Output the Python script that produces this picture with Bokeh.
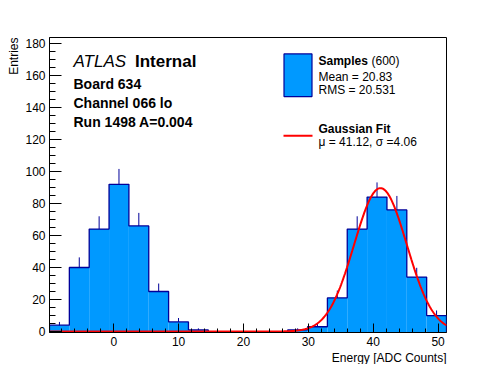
import numpy as np
from bokeh.plotting import figure
from bokeh.models import Range1d, FixedTicker, Label, Title
from bokeh.embed import file_html
from bokeh.resources import INLINE

# ---- data ----
BIN_LO, BIN_HI, N_BINS = -9.9, 51.3, 20
counts = [4, 40, 64, 92, 66, 25, 6, 1, 0, 0, 0, 0, 1, 3, 21, 64, 84, 76, 34, 10]
fit_const = 89.6
fit_mu = 41.12
fit_sigma = 4.06
x_ticks = [0, 10, 20, 30, 40, 50]
y_ticks = [0, 20, 40, 60, 80, 100, 120, 140, 160, 180]
Y_LO, Y_HI = -0.6, 183.7

FONT = "Liberation Sans"
FILL = "#0099ff"
EDGE = "#000099"

# frame position in picture pixels
FL, FR, FT, FB = 49, 446, 37, 334
W, H = 480, 364

edges = np.linspace(BIN_LO, BIN_HI, N_BINS + 1)
cnt = np.array(counts, dtype=float)
centers = 0.5 * (edges[:-1] + edges[1:])

p = figure(width=W, height=H, output_backend="svg", toolbar_location=None,
           x_range=Range1d(BIN_LO, BIN_HI), y_range=Range1d(Y_LO, Y_HI),
           min_border_left=FL, min_border_right=W - FR, min_border_top=FT, min_border_bottom=H - FB)
p.background_fill_color = "white"
p.border_fill_color = "white"
p.outline_line_color = "black"
p.outline_line_width = 1
p.xgrid.grid_line_color = None
p.ygrid.grid_line_color = None

# error bars (upper part visible above fill)
nz = cnt > 0
p.segment(x0=centers[nz], y0=(cnt - np.sqrt(cnt))[nz], x1=centers[nz], y1=(cnt + np.sqrt(cnt))[nz],
          line_color=EDGE, line_width=1)
# filled bars
p.quad(left=edges[:-1], right=edges[1:], bottom=Y_LO, top=cnt, fill_color=FILL, line_color=None)
# step outline
sx = np.repeat(edges, 2)
sy = np.concatenate([[0], np.repeat(cnt, 2), [0]])
p.line(sx, sy, line_color=EDGE, line_width=1.3)

# Gaussian fit
gx = np.linspace(BIN_LO, BIN_HI, 600)
gy = fit_const * np.exp(-0.5 * ((gx - fit_mu) / fit_sigma) ** 2)
p.line(gx, gy, line_color="red", line_width=2)

# axes
xa = p.xaxis[0]
ya = p.yaxis[0]
xa.ticker = FixedTicker(ticks=x_ticks, minor_ticks=list(range(-8, 52, 2)))
ya.ticker = FixedTicker(ticks=y_ticks, minor_ticks=list(range(0, 185, 5)))
for ax in (xa, ya):
    ax.axis_line_color = "black"
    ax.major_tick_line_color = "black"
    ax.minor_tick_line_color = "black"
    ax.major_tick_out = 0
    ax.minor_tick_out = 0
    ax.major_label_text_font = FONT
    ax.major_label_text_font_size = "12px"
    ax.major_label_text_color = "black"
    ax.major_label_standoff = 4
xa.major_tick_in = 9
xa.minor_tick_in = 4
ya.major_tick_in = 12
ya.minor_tick_in = 6

# axis titles (as side-panel titles so they can be end-aligned)
p.add_layout(Title(text="Entries", align="right", text_font=FONT, text_font_size="12px",
                   text_font_style="normal", text_color="black", standoff=4), "left")
p.add_layout(Title(text="Energy [ADC Counts]", align="right", text_font=FONT, text_font_size="12px",
                   text_font_style="normal", text_color="black", standoff=0), "below")

# pixel -> data helpers for text placement
def dx(px):
    return BIN_LO + (px - FL) / (FR - FL) * (BIN_HI - BIN_LO)

def dy(py):
    return Y_LO + (FB - py) / (FB - FT) * (Y_HI - Y_LO)

def lab(txt, px, py, size, style="normal", align="left", base="middle", angle=0):
    p.add_layout(Label(x=dx(px), y=dy(py), text=txt, text_font=FONT,
                       text_font_size=size, text_font_style=style, text_color="black",
                       text_align=align, text_baseline=base, angle=angle))

lab("ATLAS", 73, 61.5, "17px", "italic", base="alphabetic")
lab("Internal", 134.5, 61.5, "17px", "bold", base="alphabetic")
lab("Board 634", 73, 83.5, "14px", "bold", base="alphabetic")
lab("Channel 066 lo", 73, 103, "14px", "bold", base="alphabetic")
lab("Run 1498 A=0.004", 73, 122.5, "14px", "bold", base="alphabetic")

# legend
p.quad(left=[dx(283.5)], right=[dx(311.5)], bottom=[dy(96.5)], top=[dy(53.5)],
       fill_color=FILL, line_color=EDGE, line_width=1.2)
lab("Samples", 318, 61, "12px", "bold")
lab("(600)", 371, 61, "12px")
lab("Mean = 20.83", 318, 77, "12px")
lab("RMS = 20.531", 318, 89.5, "12px")
p.line([dx(283), dx(312)], [dy(136), dy(136)], line_color="red", line_width=2)
lab("Gaussian Fit", 318, 129.5, "12px", "bold")
lab("\u03bc = 41.12, \u03c3 =4.06", 318, 142, "12px")

open("out.html", "w").write(file_html(p, INLINE))
